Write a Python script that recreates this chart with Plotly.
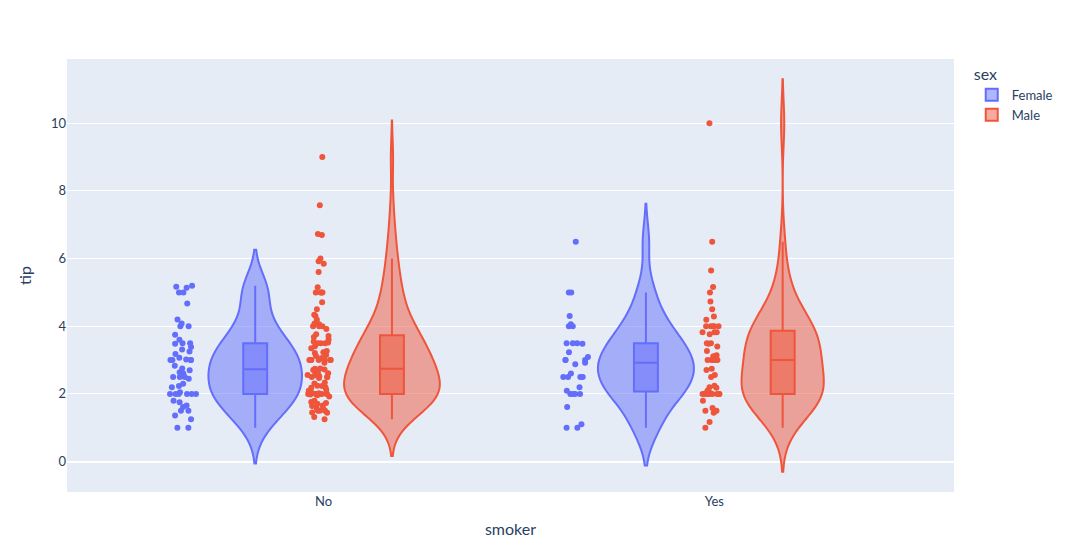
import plotly.graph_objects as go

smoker_no_female = [1.0, 1.0, 1.25, 1.36, 1.5, 1.5, 1.61, 1.66, 1.75, 1.8, 2.0, 2.0, 2.0, 2.0, 2.0, 2.0,
                    2.05, 2.2, 2.23, 2.3, 2.45, 2.5, 2.5, 2.5, 2.6, 2.64, 2.7, 2.75, 2.83, 3.0, 3.0, 3.0,
                    3.0, 3.02, 3.07, 3.18, 3.25, 3.31, 3.39, 3.48, 3.5, 3.5, 3.6, 3.75, 4.0, 4.0, 4.08,
                    4.2, 4.67, 5.0, 5.0, 5.14, 5.17, 5.2]
smoker_no_male = [1.25, 1.32, 1.44, 1.45, 1.5, 1.5, 1.5, 1.56, 1.57, 1.64, 1.71, 1.73, 1.76, 1.8, 1.92,
                  1.96, 1.98, 2.0, 2.0, 2.0, 2.0, 2.0, 2.0, 2.0, 2.0, 2.01, 2.02, 2.03, 2.09, 2.12, 2.18,
                  2.2, 2.24, 2.31, 2.34, 2.47, 2.5, 2.5, 2.5, 2.52, 2.56, 2.6, 2.64, 2.71, 2.72, 2.74,
                  2.75, 2.92, 3.0, 3.0, 3.0, 3.0, 3.0, 3.0, 3.0, 3.06, 3.12, 3.15, 3.21, 3.23, 3.27,
                  3.35, 3.41, 3.5, 3.5, 3.5, 3.52, 3.55, 3.61, 3.68, 3.71, 3.76, 3.92, 4.0, 4.0, 4.0,
                  4.06, 4.08, 4.19, 4.3, 4.34, 4.5, 4.71, 5.0, 5.0, 5.0, 5.0, 5.15, 5.6, 5.85, 5.92,
                  6.0, 6.7, 6.73, 7.58, 9.0, 1.66, 2.23, 2.55, 2.61]
smoker_yes_female = [1.0, 1.0, 1.1, 1.61, 2.0, 2.0, 2.0, 2.0, 2.09, 2.2, 2.5, 2.5, 2.5, 2.5, 2.6, 2.88,
                     2.92, 3.0, 3.0, 3.0, 3.09, 3.23, 3.48, 3.5, 3.5, 3.5, 4.0, 4.0, 4.06, 4.3, 5.0,
                     5.0, 6.5]
smoker_yes_male = [1.0, 1.17, 1.44, 1.5, 1.5, 1.5, 1.58, 1.8, 2.0, 2.0, 2.0, 2.0, 2.0, 2.0, 2.0, 2.0,
                   2.01, 2.03, 2.09, 2.18, 2.2, 2.24, 2.5, 2.56, 2.71, 2.74, 3.0, 3.0, 3.0, 3.0, 3.0,
                   3.0, 3.11, 3.14, 3.27, 3.4, 3.48, 3.5, 3.5, 3.76, 3.82, 3.82, 3.82, 4.0, 4.0, 4.0,
                   4.0, 4.0, 4.19, 4.29, 4.5, 4.73, 5.0, 5.16, 5.65, 6.5, 10.0]

groups = {
    "Female": ("#636efa", smoker_no_female, smoker_yes_female),
    "Male": ("#EF553B", smoker_no_male, smoker_yes_male),
}

fig = go.Figure()
for name, (color, no_vals, yes_vals) in groups.items():
    fig.add_trace(go.Violin(
        x=["No"] * len(no_vals) + ["Yes"] * len(yes_vals),
        y=no_vals + yes_vals,
        name=name, legendgroup=name, scalegroup=name, offsetgroup=name,
        marker_color=color, line_color=color,
        box_visible=True, points="all",
    ))

fig.update_layout(
    template="plotly",
    violinmode="group",
    width=1080, height=557,
    margin=dict(l=59, r=134, t=51, b=73),
    font=dict(family="Lato, Arial, sans-serif", size=13),
    xaxis_title="smoker", yaxis_title="tip",
    legend=dict(title_text="sex", tracegroupgap=0),
    yaxis=dict(range=[-0.9, 11.9]),
)

fig.write_html("out.html")
